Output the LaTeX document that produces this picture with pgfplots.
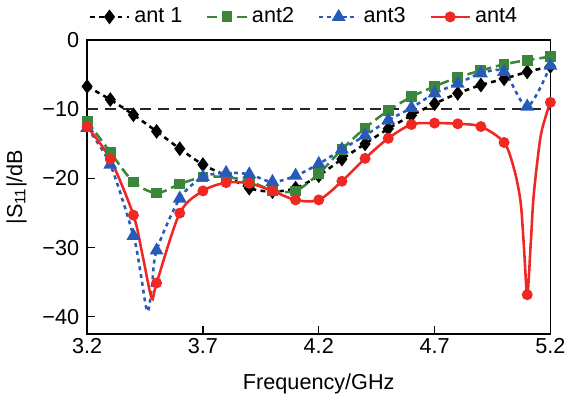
\documentclass[border=0pt]{standalone}
\usepackage{pgfplots}
\pgfplotsset{compat=1.18}
\usepackage{fontspec}
\setmainfont{Liberation Sans}
\definecolor{cgreen}{RGB}{58,135,60}
\definecolor{cblue}{RGB}{40,90,185}
\definecolor{cred}{RGB}{240,40,35}
\begin{document}
\begin{tikzpicture}
\begin{axis}[
  scale only axis,
  width=235.5pt, height=149.5pt,
  xmin=3.2, xmax=5.2, ymin=-42.5, ymax=0,
  xtick={3.2,3.7,4.2,4.7,5.2},
  xticklabels={3.2,3.7,4.2,4.7,5.2},
  ytick={-40,-30,-20,-10,0},
  yticklabels={−40,−30,−20,−10,0},
  tick pos=left, tick align=inside, major tick length=4pt,
  axis line style={line width=0.8pt},
  every tick/.style={line width=0.6pt, black},
  font=\fontsize{11}{13}\selectfont,
  xticklabel style={yshift=1.5pt},
  yticklabel style={xshift=-0.5pt},
  xlabel={Frequency/GHz},
  ylabel={|S\textsubscript{11}|/dB},
  xlabel style={at={(axis description cs:0.5,-0.17)}, anchor=center},
  ylabel style={at={(axis description cs:-0.152,0.5)}, anchor=center},
  legend columns=4,
  legend style={draw=none, at={(0.47,1.02)}, anchor=south, font=\fontsize{11}{13}\selectfont,
    /tikz/every even column/.append style={column sep=10pt}},
  legend image code/.code={\draw[#1] (0pt,0pt) -- (10pt,0pt) -- (20pt,0pt); \path[#1,solid] plot coordinates {(10pt,0pt)};},
]
\draw[black!85, line width=1pt, dash pattern=on 5.5pt off 3.5pt] (axis cs:3.2,-10) -- (axis cs:5.2,-10);
\addplot[black, line width=1.3pt, dash pattern=on 2.5pt off 2.2pt, smooth, mark=diamond*, mark size=2.7pt, mark options={solid}]
coordinates {(3.2,-6.7)(3.3,-8.6)(3.4,-10.8)(3.5,-13.2)(3.6,-15.7)(3.7,-18.0)(3.8,-19.6)(3.9,-21.4)(4.0,-21.9)(4.1,-21.4)(4.2,-19.6)(4.3,-17.2)(4.4,-15.0)(4.5,-12.8)(4.6,-10.9)(4.7,-9.2)(4.8,-7.7)(4.9,-6.5)(5.0,-5.6)(5.1,-4.6)(5.2,-3.8)};
\addlegendentry{ant 1}
\addplot[cgreen, line width=1.3pt, dash pattern=on 5pt off 2.5pt, smooth, mark=square*, mark size=2.1pt, mark options={solid}]
coordinates {(3.2,-11.7)(3.3,-16.2)(3.4,-20.5)(3.5,-22.1)(3.6,-20.8)(3.7,-19.8)(3.8,-19.8)(3.9,-20.4)(4.0,-21.7)(4.1,-21.8)(4.2,-19.3)(4.3,-15.8)(4.4,-12.7)(4.5,-10.2)(4.6,-8.2)(4.7,-6.7)(4.8,-5.4)(4.9,-4.4)(5.0,-3.5)(5.1,-2.9)(5.2,-2.4)};
\addlegendentry{ant2}
\addplot[cblue, line width=1.3pt, dash pattern=on 2pt off 2pt, smooth, mark=triangle*, mark size=2.8pt, mark options={solid},
  mark indices={1,2,3,7,8,9,10,11,12,13,14,15,16,17,18,19,20,21,22,23,24}]
coordinates {(3.2,-12.7)(3.3,-18.0)(3.4,-28.3)(3.43,-33.5)(3.46,-39.2)(3.48,-35.6)(3.5,-30.4)(3.6,-22.9)(3.7,-19.8)(3.8,-19.2)(3.9,-19.4)(4.0,-20.5)(4.1,-19.6)(4.2,-17.9)(4.3,-15.8)(4.4,-13.8)(4.5,-11.6)(4.6,-9.8)(4.7,-7.7)(4.8,-6.3)(4.9,-4.8)(5.0,-4.6)(5.1,-9.6)(5.2,-3.7)};
\addlegendentry{ant3}
\addplot[cred, line width=1.3pt, smooth, mark=*, mark size=2.1pt,
  mark indices={1,2,3,6,7,8,9,10,11,12,13,14,15,16,17,18,19,20,21,25,30}]
coordinates {(3.2,-12.5)(3.3,-17.2)(3.4,-25.3)(3.44,-31.2)(3.479,-37.3)(3.5,-35.1)(3.6,-25.0)(3.7,-21.8)(3.8,-20.6)(3.9,-20.7)(4.0,-21.8)(4.1,-23.1)(4.2,-23.1)(4.3,-20.4)(4.4,-17.1)(4.5,-14.2)(4.6,-12.2)(4.7,-12.0)(4.8,-12.1)(4.9,-12.5)(5.0,-14.8)(5.043,-18.6)(5.071,-23.3)(5.085,-29.5)(5.1,-36.8)(5.115,-29.5)(5.128,-22.4)(5.156,-14.3)(5.18,-11.0)(5.2,-9.0)};
\addlegendentry{ant4}
\end{axis}
\end{tikzpicture}
\end{document}
